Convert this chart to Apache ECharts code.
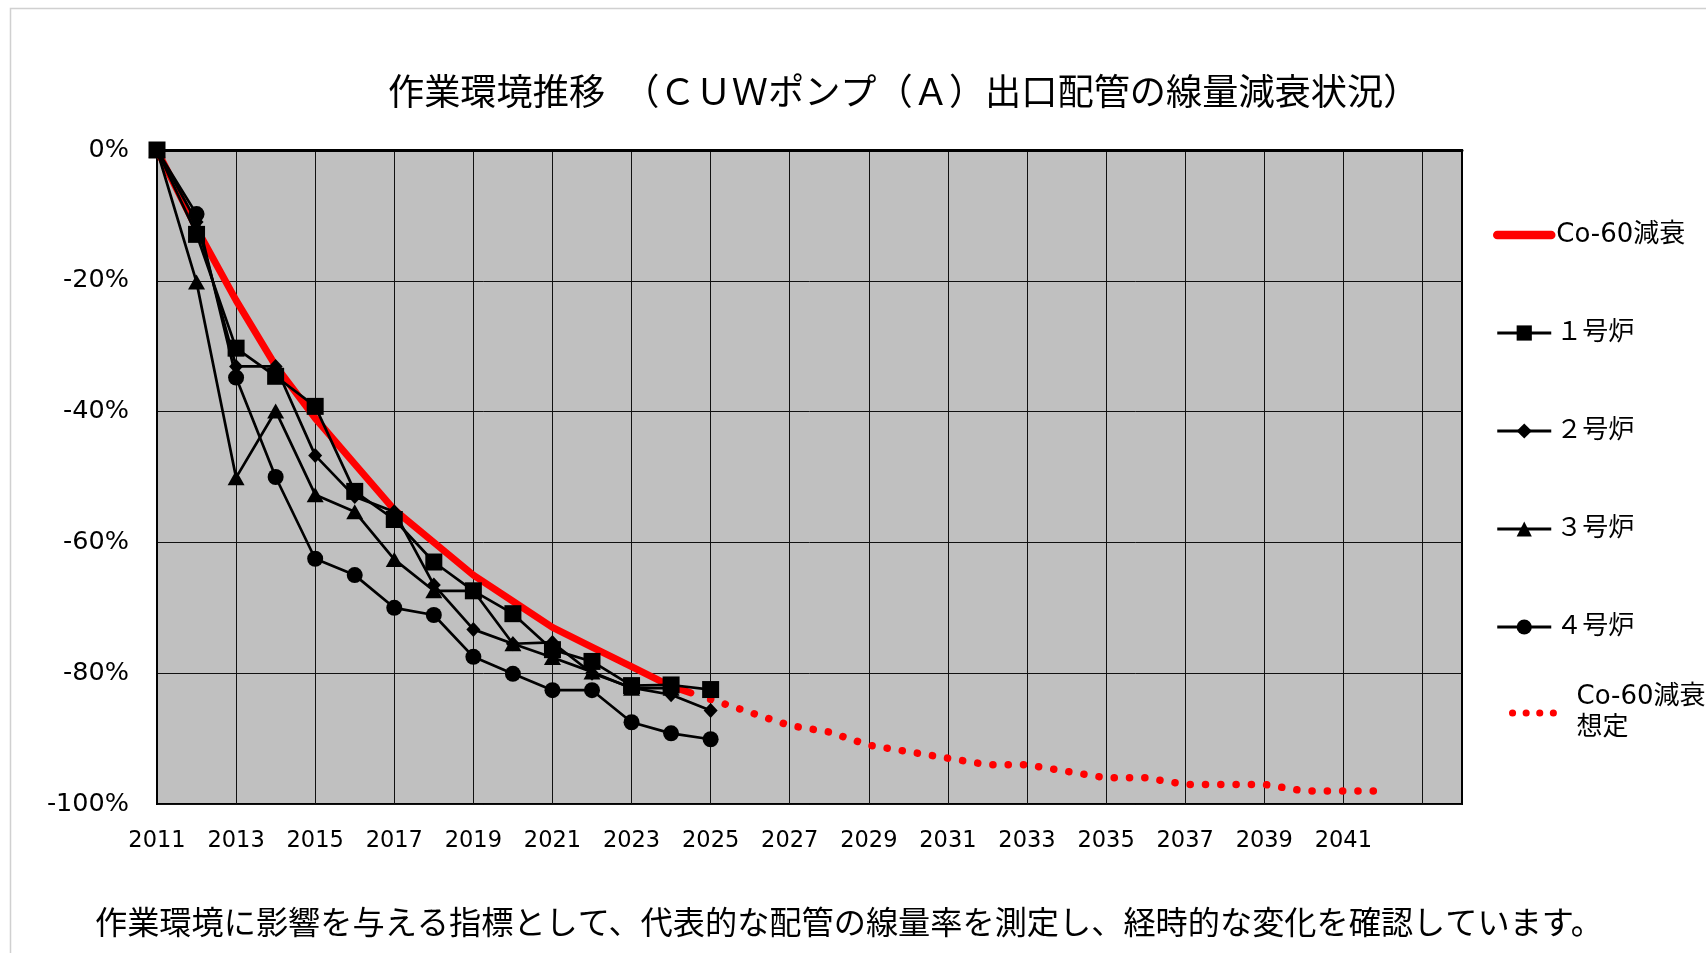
<!DOCTYPE html>
<html>
<head>
<meta charset="utf-8">
<script src="https://cdn.jsdelivr.net/npm/echarts@6/dist/echarts.min.js"></script>
<style>
html,body{margin:0;padding:0;background:#fff;}
#chart{width:1706px;height:953px;}
</style>
</head>
<body>
<div id="chart"></div>
<script>
// ---- texts ----
const titleText = '作業環境推移　（ＣＵＷポンプ（Ａ）出口配管の線量減衰状況）';
const captionText = '作業環境に影響を与える指標として、代表的な配管の線量率を測定し、経時的な変化を確認しています。';

// ---- axis categories / tick labels ----
const axisYears = ['2011','2012','2013','2014','2015','2016','2017','2018','2019','2020',
  '2021','2022','2023','2024','2025','2026','2027','2028','2029','2030',
  '2031','2032','2033','2034','2035','2036','2037','2038','2039','2040',
  '2041','2042','2043','2044'];
const hiddenTickLabels = ['2043'];

// ---- series names ----
const nameCo60 = 'Co-60減衰';
const nameUnit1 = '１号炉';
const nameUnit2 = '２号炉';
const nameUnit3 = '３号炉';
const nameUnit4 = '４号炉';
const nameCo60Proj = 'Co-60減衰想定';

// ---- data (percent change of dose rate) ----
const measuredYears = [2011,2012,2013,2014,2015,2016,2017,2018,2019,2020,2021,2022,2023,2024,2025];
const unit1 = [0, -12.9, -30.3, -34.6, -39.2, -52.2, -56.5, -63.0, -67.4, -70.9, -76.4, -78.2, -81.9, -81.8, -82.5];
const unit2 = [0, -11.0, -33.1, -33.1, -46.7, -53.0, -55.3, -66.5, -73.3, -75.5, -75.3, -80.0, -82.2, -83.3, -85.7];
const unit3 = [0, -20.2, -50.1, -39.9, -52.7, -55.3, -62.6, -67.4, -67.4, -75.5, -77.6, -79.8, -82.3, -82.3];
const unit4 = [0, -9.8, -34.8, -50.0, -62.5, -65.0, -70.0, -71.1, -77.5, -80.1, -82.6, -82.6, -87.5, -89.2, -90.1];

const co60Years = [2011,2012,2013,2014,2015,2016,2017,2018,2019,2020,2021,2022,2023,2024,2024.5];
const co60 = [0, -12, -23, -33, -41, -48, -55, -60, -65, -69, -73, -76, -79, -82, -83];

const co60ProjYears = [2025,2026,2027,2028,2029,2030,2031,2032,2033,2034,2035,2036,2037,2038,2039,2040,2041,2042];
const co60Proj = [-84, -86, -88, -89, -91, -92, -93, -94, -94, -95, -96, -96, -97, -97, -97, -98, -98, -98];

// ---- helpers ----
function pairs(xs, ys) { return ys.map((v, i) => [xs[i], v]); }

const latinFont = "'DejaVu Sans','Noto Sans CJK JP',sans-serif";
const cjkFont = "'Noto Sans CJK JP','DejaVu Sans',sans-serif";

function unitSeries(name, ys, symbol, size) {
  return {
    name: name, type: 'line', xAxisIndex: 1, yAxisIndex: 0,
    data: pairs(measuredYears, ys),
    symbol: symbol, symbolSize: size, showSymbol: true,
    lineStyle: { color: '#000', width: 2.7 },
    itemStyle: { color: '#000' },
    emphasis: { disabled: true },
    animation: false
  };
}

function unitLegend(name) {
  return { name: name, lineStyle: { width: 3, color: '#000' } };
}

const chart = echarts.init(document.getElementById('chart'), null, { renderer: 'canvas' });

const option = {
  backgroundColor: '#ffffff',
  animation: false,
  grid: {
    left: 157, top: 150, width: 1305, height: 654,
    show: true, backgroundColor: '#c0c0c0', borderColor: '#000', borderWidth: 2
  },
  xAxis: [
    {
      type: 'category', data: axisYears, boundaryGap: false, gridIndex: 0,
      axisLine: { show: true, lineStyle: { color: '#000', width: 3 } },
      axisTick: { show: false },
      axisLabel: {
        interval: 1, color: '#000', fontSize: 22.5, fontFamily: latinFont, margin: 26,
        formatter: v => hiddenTickLabels.indexOf(v) >= 0 ? '' : v
      },
      splitLine: { show: true, interval: 1, lineStyle: { color: '#111', width: 1 } }
    },
    { type: 'value', min: 2011, max: 2044, show: false, gridIndex: 0 }
  ],
  yAxis: {
    type: 'value', min: -100, max: 0, interval: 20,
    axisLine: { show: true, lineStyle: { color: '#000', width: 2 } },
    axisTick: { show: false },
    axisLabel: { formatter: '{value}%', color: '#000', fontSize: 25.5, fontFamily: latinFont, margin: 28 },
    splitLine: { show: true, lineStyle: { color: '#111', width: 1 } }
  },
  legend: [
    {
      data: [
        { name: nameCo60, itemStyle: { opacity: 0 }, lineStyle: { width: 8.5, color: '#ff0000', cap: 'round' } },
        unitLegend(nameUnit1), unitLegend(nameUnit2), unitLegend(nameUnit3), unitLegend(nameUnit4)
      ],
      orient: 'vertical', left: 1488, top: 217,
      itemWidth: 54, itemHeight: 19, itemGap: 72,
      selectedMode: false,
      textStyle: { fontSize: 26, lineHeight: 26, color: '#000', fontFamily: latinFont }
    },
    {
      data: [{ name: nameCo60Proj, itemStyle: { opacity: 0 },
               lineStyle: { width: 7, color: '#ff0000', type: [0.1, 13.5], cap: 'round' } }],
      orient: 'vertical', left: 1504, top: 677,
      itemWidth: 46, itemHeight: 16,
      selectedMode: false,
      formatter: n => n === nameCo60Proj ? 'Co-60減衰\n想定' : n,
      textStyle: { fontSize: 26, lineHeight: 31, color: '#000', fontFamily: latinFont, padding: [0, 0, 0, 13] }
    }
  ],
  graphic: [
    {
      type: 'rect', silent: true, z: -10,
      shape: { x: 10.5, y: 8.5, width: 1760, height: 1000 },
      style: { fill: 'none', stroke: '#d0d0d0', lineWidth: 1.5 }
    },
    {
      type: 'text', x: 388, y: 91, silent: true,
      style: { text: titleText, fontSize: 36.2, fontFamily: cjkFont, fill: '#000', align: 'left', verticalAlign: 'middle' }
    },
    {
      type: 'text', x: 95, y: 922, silent: true,
      style: { text: captionText, fontSize: 32.2, fontFamily: cjkFont, fill: '#000', align: 'left', verticalAlign: 'middle' }
    }
  ],
  series: [
    {
      name: nameCo60, type: 'line', xAxisIndex: 1,
      data: pairs(co60Years, co60),
      symbol: 'none', showSymbol: false,
      lineStyle: { color: '#ff0000', width: 7, cap: 'round' },
      itemStyle: { color: '#ff0000' },
      emphasis: { disabled: true }
    },
    {
      name: nameCo60Proj, type: 'line', xAxisIndex: 1,
      data: pairs(co60ProjYears, co60Proj),
      symbol: 'none', showSymbol: false,
      lineStyle: { color: '#ff0000', width: 7.5, type: [0.1, 15.2], cap: 'round' },
      itemStyle: { color: '#ff0000' },
      emphasis: { disabled: true }
    },
    unitSeries(nameUnit4, unit4, 'circle', 16),
    unitSeries(nameUnit3, unit3, 'triangle', [17, 15]),
    unitSeries(nameUnit2, unit2, 'diamond', [14, 15]),
    unitSeries(nameUnit1, unit1, 'rect', 17)
  ]
};

chart.setOption(option);
</script>
</body>
</html>
